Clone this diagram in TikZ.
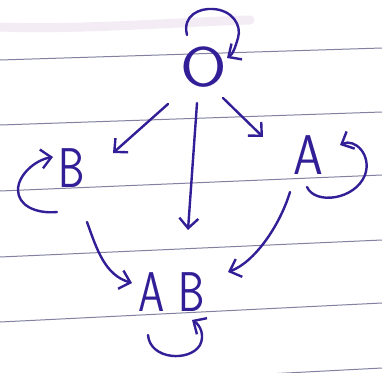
\documentclass[tikz,border=0pt]{standalone}
\usepackage{fontspec}
\usetikzlibrary{arrows.meta,calc}
\definecolor{ink}{RGB}{50,30,150}
\definecolor{rulecol}{RGB}{130,130,160}
\definecolor{smudge}{RGB}{244,236,245}
\begin{document}
\begin{tikzpicture}[x=1pt,y=-1pt,
  inkline/.style={draw=ink,line width=2.4pt,line cap=round,line join=round},
  arr/.style={inkline,-{Straight Barb[length=10pt,width=19pt]}},
  lbl/.style={text=ink,inner sep=0pt,font=\sffamily\fontsize{56}{56}\selectfont},
  paperline/.style={draw=rulecol,line width=1pt}]
\path[use as bounding box,fill=white] (0,0) rectangle (382,372);
% faint smudge at top
\draw[smudge,line width=9pt,line cap=round] (0,27) .. controls (80,30) and (180,22) .. (250,20);
% ruled paper lines
\draw[paperline] (0,60) -- (382,48);
\draw[paperline] (0,125) -- (382,112);
\draw[paperline] (0,191) -- (382,175);
\draw[paperline] (0,257) -- (382,240);
\draw[paperline] (0,322) -- (382,303);
\draw[paperline] (0,388) -- (382,368);
% nodes
\node[lbl] (O) at (204,67) {\scalebox{1.2}[1]{O}};
\node[lbl] (B) at (72,168) {\scalebox{0.75}[1]{B}};
\node[lbl] (A) at (308,155) {\scalebox{0.85}[1]{A}};
\node[lbl] (AB) at (172,292) {\scalebox{0.75}[1]{A}\hspace{14pt}\scalebox{0.75}[1]{B}};
% edges
\draw[arr] ($(O)+(-36,37)$) -- ($(B)+(41,-15)$);
\draw[arr] ($(O)+(-7,36)$) -- ($(AB)+(16,-62)$);
\draw[arr] ($(O)+(19,31)$) -- ($(A)+(-45,-18)$);
\draw[arr] ($(B)+(15,54)$) .. controls ($(B)+(25,82)$) and ($(B)+(33,107)$) .. ($(AB)+(-40,-9)$);
\draw[arr] ($(A)+(-18,37)$) .. controls ($(A)+(-28,70)$) and ($(A)+(-53,107)$) .. ($(AB)+(56,-20)$);
% self loops
\draw[arr] ($(O)+(-17,-32)$) .. controls ($(O)+(-22,-52)$) and ($(O)+(-4,-59)$) .. ($(O)+(9,-58)$)
  .. controls ($(O)+(28,-57)$) and ($(O)+(38,-42)$) .. ($(O)+(34,-29)$)
  .. controls ($(O)+(31,-19)$) and ($(O)+(29,-13)$) .. ($(O)+(23,-9)$);
\draw[arr] ($(B)+(-15,44)$) .. controls ($(B)+(-37,46)$) and ($(B)+(-54,37)$) .. ($(B)+(-54,22)$)
  .. controls ($(B)+(-54,7)$) and ($(B)+(-37,-8)$) .. ($(B)+(-19,-11)$);
\draw[arr] ($(A)+(-1,32)$) .. controls ($(A)+(7,50)$) and ($(A)+(47,45)$) .. ($(A)+(57,20)$)
  .. controls ($(A)+(64,0)$) and ($(A)+(47,-17)$) .. ($(A)+(32,-10)$);
\draw[arr] ($(AB)+(-24,43)$) .. controls ($(AB)+(-22,68)$) and ($(AB)+(18,70)$) .. ($(AB)+(28,53)$)
  .. controls ($(AB)+(33,43)$) and ($(AB)+(28,33)$) .. ($(AB)+(20,28)$);
\end{tikzpicture}
\end{document}
